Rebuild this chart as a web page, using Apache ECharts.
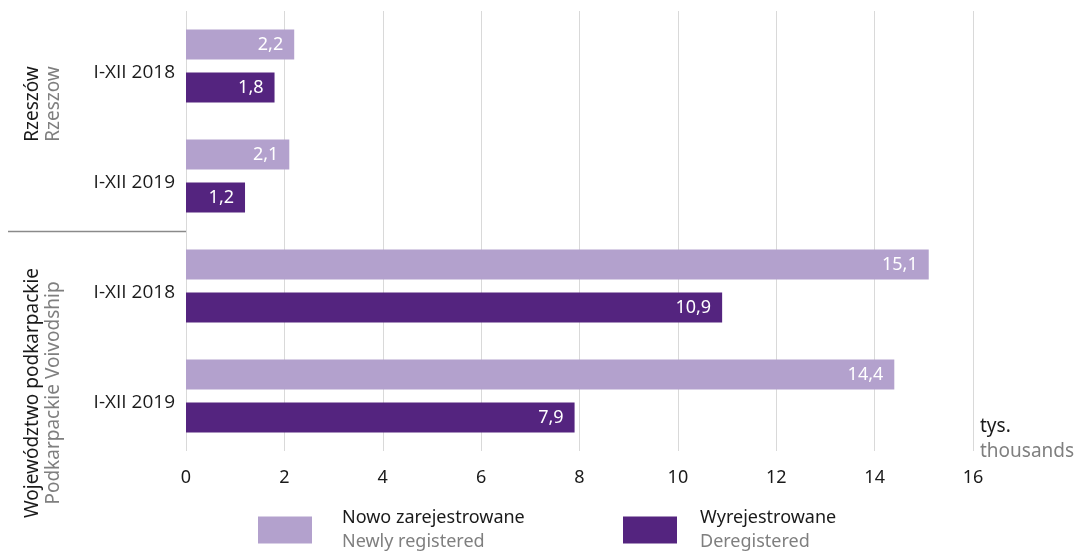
<!DOCTYPE html>
<html>
<head>
<meta charset="utf-8">
<script src="https://cdn.jsdelivr.net/npm/echarts@6/dist/echarts.min.js"></script>
<style>
  html, body { margin: 0; padding: 0; background: #fff; }
  #chart { width: 1083px; height: 552px; }
</style>
</head>
<body>
<div id="chart"></div>
<script>
// categories, top to bottom
const categories = ['I-XII 2018', 'I-XII 2019', 'I-XII 2018 ', 'I-XII 2019 ']
const newlyRegistered = [2.2, 2.1, 15.1, 14.4]
const deregistered = [1.8, 1.2, 10.9, 7.9]
const xTicks = { min: 0, max: 16, interval: 2 }

const light = '#b3a1cd'
const dark = '#54247f'
const ink = '#1a1a1a'
const ink3 = '#7f7f7f'
const font = 'Noto Sans'
const catFont = 'Open Sans'

const fmt = (v) => String(v).replace('.', ',')

const chart = echarts.init(document.getElementById('chart'), null, { renderer: 'canvas' })

const barLabel = {
  show: true,
  position: 'insideRight',
  distance: 11,
  color: '#fff',
  fontSize: 18,
  fontFamily: font,
  formatter: (p) => fmt(p.value)
}

function legendFor(name, left, gap) {
  return {
    data: [name],
    left: left,
    top: 509,
    padding: 0,
    orient: 'horizontal',
    itemWidth: 54,
    itemHeight: 27,
    itemStyle: { borderWidth: 0 },
    icon: 'rect',
    selectedMode: false,
    textStyle: {
      fontFamily: font,
      padding: [0, 0, 0, gap],
      rich: {
        a: { color: ink, fontSize: 18, fontFamily: font, lineHeight: 24 },
        b: { color: ink3, fontSize: 18, fontFamily: font, lineHeight: 24 }
      }
    },
    formatter: (n) => n === 'Nowo zarejestrowane'
      ? '{a|Nowo zarejestrowane}\n{b|Newly registered}'
      : '{a|Wyrejestrowane}\n{b|Deregistered}'
  }
}

chart.setOption({
  animation: false,
  backgroundColor: '#fff',
  textStyle: { fontFamily: font },
  grid: { left: 186, right: 110, top: 11, bottom: 101, containLabel: false },
  legend: [legendFor('Nowo zarejestrowane', 258, 25), legendFor('Wyrejestrowane', 623, 18)],
  xAxis: {
    type: 'value',
    min: xTicks.min,
    max: xTicks.max,
    interval: xTicks.interval,
    axisLine: { show: false },
    axisTick: { show: false },
    axisLabel: { color: ink, fontSize: 18, fontFamily: font, margin: 18 },
    splitLine: { lineStyle: { color: '#d9d9d9', width: 1 } }
  },
  yAxis: {
    type: 'category',
    data: categories,
    inverse: true,
    axisLine: { show: false },
    axisTick: { show: false },
    axisLabel: {
      color: ink,
      fontSize: 19,
      fontFamily: catFont,
      margin: 11,
      verticalAlign: 'top',
      lineHeight: 14,
      formatter: (v) => v.trim()
    }
  },
  series: [
    {
      name: 'Nowo zarejestrowane',
      type: 'bar',
      data: newlyRegistered,
      barWidth: 30,
      barGap: '43%',
      itemStyle: { color: light },
      label: barLabel
    },
    {
      name: 'Wyrejestrowane',
      type: 'bar',
      data: deregistered,
      barWidth: 30,
      barGap: '43%',
      itemStyle: { color: dark },
      label: barLabel
    }
  ]
})

// group separator and group titles
const c1 = chart.convertToPixel({ yAxisIndex: 0 }, 1)
const c2 = chart.convertToPixel({ yAxisIndex: 0 }, 2)
const sepY = Math.round((c1 + c2) / 2) + 0.5
const x0 = chart.convertToPixel({ xAxisIndex: 0 }, 0)
const unitX = chart.convertToPixel({ xAxisIndex: 0 }, 16) + 7

function vText(text, x, y, color) {
  return {
    type: 'text',
    x: x,
    y: y,
    rotation: Math.PI / 2,
    style: { text: text, fill: color, font: '19px "' + font + '"', align: 'center', verticalAlign: 'middle' }
  }
}

chart.setOption({
  graphic: [
    {
      type: 'line',
      shape: { x1: 8, y1: sepY, x2: x0, y2: sepY },
      style: { stroke: '#8a8a8a', lineWidth: 1.5 }
    },
    vText('Rzeszów', 33, 104, ink),
    vText('Rzeszow', 54, 104, ink3),
    vText('Województwo podkarpackie', 33, 393, ink),
    vText('Podkarpackie Voivodship', 54, 393, ink3),
    {
      type: 'text',
      x: unitX,
      y: 417,
      style: { text: 'tys.', fill: ink, font: '19px "' + font + '"' }
    },
    {
      type: 'text',
      x: unitX,
      y: 442,
      style: { text: 'thousands', fill: ink3, font: '19px "' + font + '"' }
    }
  ]
})
</script>
</body>
</html>
